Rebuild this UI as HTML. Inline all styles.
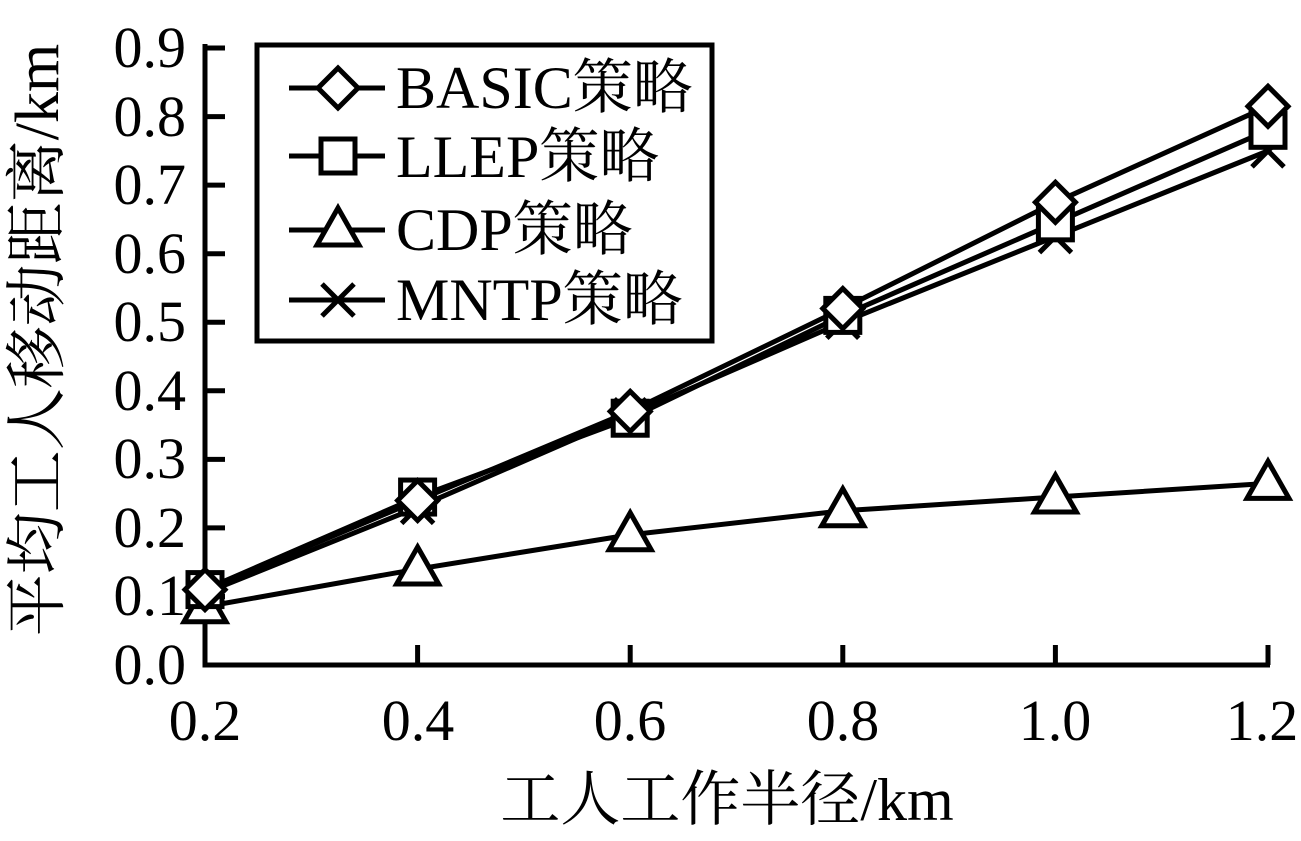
<!DOCTYPE html>
<html><head><meta charset="utf-8"><style>
html,body{margin:0;padding:0;background:#fff;}
svg text{font-family:"Liberation Serif","Noto Serif CJK SC",serif;fill:#000;}
</style></head><body>
<svg id="s" width="1301" height="836" viewBox="0 0 1301 836" xmlns="http://www.w3.org/2000/svg">
<g font-size="58" text-anchor="end">
<text x="186" y="67">0.9</text><text x="186" y="136">0.8</text><text x="186" y="204">0.7</text><text x="186" y="273">0.6</text><text x="186" y="341">0.5</text><text x="186" y="410">0.4</text><text x="186" y="478">0.3</text><text x="186" y="547">0.2</text><text x="186" y="615">0.1</text><text x="186" y="684">0.0</text>
</g>
<g font-size="58" text-anchor="middle">
<text x="205" y="740">0.2</text><text x="418" y="740">0.4</text><text x="630" y="740">0.6</text><text x="843" y="740">0.8</text><text x="1055" y="740">1.0</text><text x="1262" y="740">1.2</text>
</g>
<text x="727" y="820" font-size="60" text-anchor="middle">工人工作半径/km</text>
<text transform="translate(58,340) rotate(-90)" font-size="62" text-anchor="middle">平均工人移动距离/km</text>
<g id="ax" stroke="#000" stroke-width="5" fill="none"></g>
<g id="data" stroke="#000" stroke-width="5" fill="none"></g>
<rect x="257" y="45" width="455" height="296" stroke="#000" stroke-width="5" fill="#fff"/>
<g id="leg" stroke="#000" stroke-width="5" fill="none"></g>
<g font-size="60">
<text x="396" y="108">BASIC策略</text><text x="396" y="177">LLEP策略</text><text x="396" y="250">CDP策略</text><text x="396" y="320">MNTP策略</text>
</g>
</svg>
<script>
const NS="http://www.w3.org/2000/svg";
function el(p,t,a){const e=document.createElementNS(NS,t);for(const k in a)e.setAttribute(k,a[k]);p.appendChild(e);return e;}
const X=v=>205+(v-0.2)*1063, Y=v=>665-685.5*v;
const ax=document.getElementById('ax');
el(ax,'path',{d:'M205 44 V665 H1270'});
for(let i=1;i<=9;i++){const y=Y(i/10);el(ax,'path',{d:`M205 ${y} h20`});}
for(let i=1;i<=5;i++){const x=X(0.2+i*0.2);el(ax,'path',{d:`M${x} 665 v-20`});}
function mk(g,t,x,y){
 if(t==='d')el(g,'path',{d:`M${x-20} ${y} L${x} ${y-20} L${x+20} ${y} L${x} ${y+20}Z`,fill:'#fff'});
 if(t==='s')el(g,'rect',{x:x-17,y:y-17,width:34,height:34,fill:'#fff'});
 if(t==='t')el(g,'path',{d:`M${x} ${y-22} L${x+21} ${y+15} L${x-21} ${y+15}Z`,fill:'#fff'});
 if(t==='x')el(g,'path',{d:`M${x-16} ${y-16} L${x+16} ${y+16} M${x+16} ${y-16} L${x-16} ${y+16}`});
}
const xs=[0.2,0.4,0.6,0.8,1.0,1.2];
const S=[['t',[0.085,0.14,0.19,0.225,0.245,0.265]],['x',[0.105,0.23,0.365,0.50,0.625,0.75]],['s',[0.11,0.245,0.36,0.51,0.645,0.78]],['d',[0.11,0.24,0.37,0.52,0.675,0.815]]];
const dg=document.getElementById('data');
S.forEach(([t,v])=>{el(dg,'polyline',{points:v.map((y,i)=>X(xs[i])+','+Y(y)).join(' ')});});
S.forEach(([t,v])=>{v.forEach((y,i)=>mk(dg,t,X(xs[i]),Y(y)));});
const lg=document.getElementById('leg');
[['d',88],['s',156],['t',230],['x',300]].forEach(([t,y])=>{el(lg,'path',{d:`M289 ${y} H385`});mk(lg,t,338,y);});
</script>
</body></html>
